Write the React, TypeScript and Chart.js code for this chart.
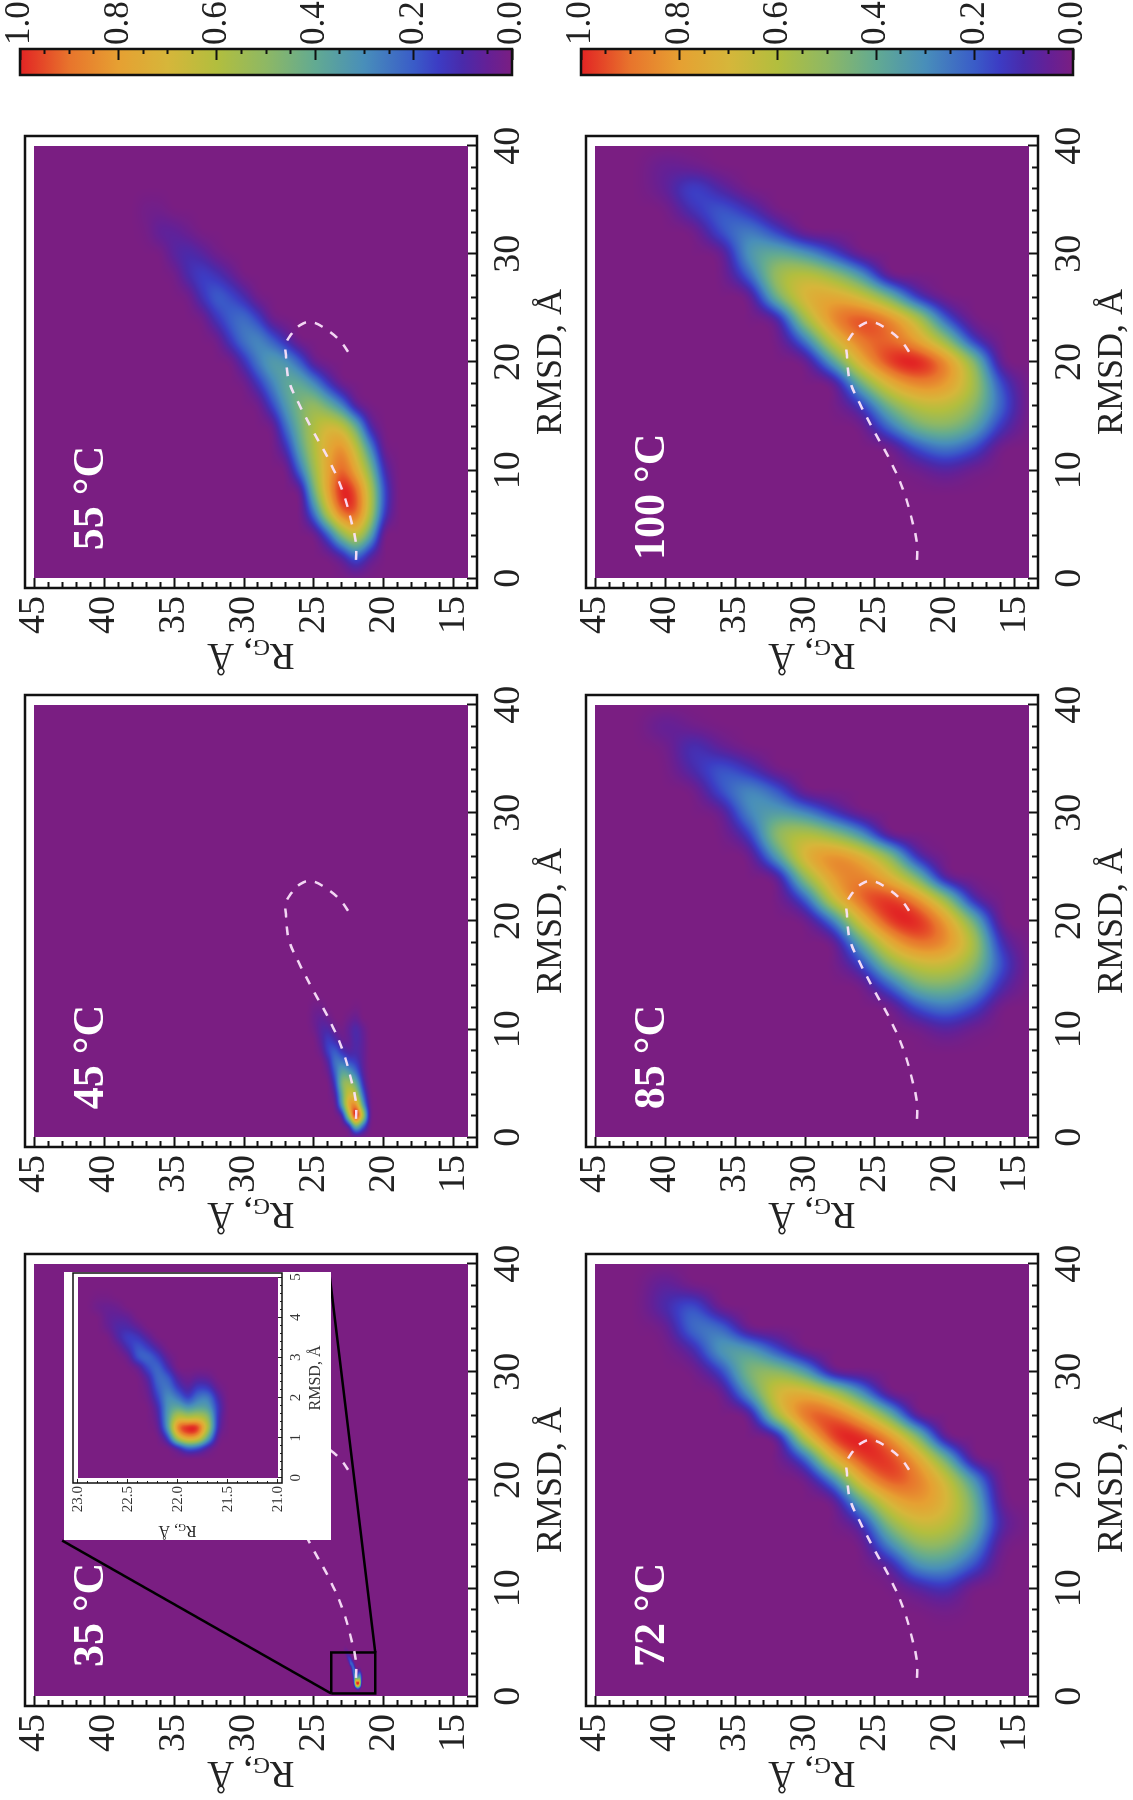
import React, { useEffect, useRef } from "react";
import { Chart, registerables } from "chart.js";
Chart.register(...registerables);

const SERIF = "'Liberation Serif'";

const RMSD_TICKS = [0,2,4,6,8,10,12,14,16,18,20,22,24,26,28,30,32,34,36,38,40];
const RG_TICKS = [14,15,16,17,18,19,20,21,22,23,24,25,26,27,28,29,30,31,32,33,34,35,36,37,38,39,40,41,42,43,44,45];
const BAR_TICKS = [0,0.05,0.1,0.15,0.2,0.25,0.3,0.35,0.4,0.45,0.5,0.55,0.6,0.65,0.7,0.75,0.8,0.85,0.9,0.95,1];
const INSET_RMSD_TICKS = [0,0.2,0.4,0.6,0.8,1,1.2,1.4,1.6,1.8,2,2.2,2.4,2.6,2.8,3,3.2,3.4,3.6,3.8,4,4.2,4.4,4.6,4.8,5];
const INSET_RG_TICKS = [21,21.1,21.2,21.3,21.4,21.5,21.6,21.7,21.8,21.9,22,22.1,22.2,22.3,22.4,22.5,22.6,22.7,22.8,22.9,23];

// folded-state reference path shown dashed in all panels: [RMSD, Rg]
const PATH_RMSD = [1.7,3.2,5.1,7.85,10.6,13.7,16.2,18.3,20.5,21.7,22.6,23.4,23.7,23,21.9,20.4];
const PATH_RG = [22,22,22.3,22.9,23.8,25.1,26.1,26.8,27,27,26.6,26,25.2,24.1,23.1,22.3];

// probability rows: [RMSD, first Rg, values (percent) at successive Rg steps]
const FIELD_35 = [
  [0.75,21.7,6,18,22,8],
  [1,21.6,3,38,74,80,62,14],
  [1.25,21.6,9,58,98,100,88,32,3],
  [1.5,21.6,11,50,60,57,62,34,6],
  [1.75,21.6,13,34,35,30,38,32,9],
  [2,21.6,9,26,24,13,24,30,15,2],
  [2.25,21.6,3,13,14,6,13,25,20,4],
  [2.5,21.7,4,5,2,6,20,23,8],
  [2.75,22.1,10,22,17,4],
  [3,22.1,4,15,22,19,3],
  [3.25,22.2,6,14,19,11,2],
  [3.5,22.3,6,13,15,8],
  [3.75,22.4,5,9,9,4],
  [4,22.5,5,6,5],
  [4.25,22.6,3,4,3],
  [4.5,22.7,1,1],
];
const FIELD_45 = [
  [1,21,1,18,38,5],
  [2,21,3,55,100,50,5],
  [3,21,2,30,75,70,30,2],
  [4,21,1,18,52,60,35,6],
  [5,21.5,10,35,48,42,12],
  [6,21.5,6,20,30,34,18,3],
  [7,21.5,5,12,15,22,22,7],
  [8,21.5,5,8,6,10,18,14,3],
  [9,21.5,5,9,4,3,9,13,6],
  [10,21.5,4,9,5,1,3,8,7,2],
  [11,22,4,2,0,0,3,5,3],
  [12,22,1,0,0,0,0,2,2],
];
const FIELD_55 = [
  [2,21,6,20,6],
  [4,21,37,62,46,17],
  [6,20,14,58,89,87,59,22],
  [8,20,17,59,90,97,75,41,1],
  [10,20,10,46,73,88,74,51,22],
  [12,20,2,29,61,80,72,56,35,10],
  [14,21,8,40,62,66,56,41,22,1],
  [16,22,4,25,40,50,44,32,15,1],
  [18,23,1,12,28,38,37,26,12,1],
  [20,25,3,19,31,34,25,11],
  [22,27,9,20,28,24,13,1],
  [24,28,2,15,23,20,12,1],
  [26,29,1,10,17,20,12,1],
  [28,31,6,12,15,10,1],
  [30,32,2,7,10,7],
  [32,34,3,6,6,1],
  [34,36,2,2],
];
const FIELD_72 = [
  [38,40,7],
  [36,38,20,10],
  [34,36,24,24,2],
  [32,32,16,35,34,8],
  [30,28,1,34,50,47,14],
  [28,26,31,60,74,69,32],
  [26,24,42,73,90,90,57],
  [24,22,48,82,98,96,64,1],
  [22,20,42,77,95,94,70,18],
  [20,18,32,66,86,92,73,25],
  [18,16,2,44,70,80,70,37],
  [16,16,8,43,62,65,48,9],
  [14,16,2,32,48,48,27],
  [12,18,17,31,29,5],
  [10,20,12,6],
  [8,20,2],
];
const FIELD_85 = [
  [38,38,2,6],
  [36,36,5,13,1],
  [34,34,12,20,10],
  [32,32,20,30,18],
  [30,28,12,28,35,29,2],
  [28,26,31,50,60,52,13],
  [26,22,8,50,74,84,73,34],
  [24,20,3,46,73,86,80,50,1],
  [22,18,8,53,84,97,91,65,17],
  [20,18,44,81,99,96,70,23],
  [18,16,10,59,84,89,73,37],
  [16,16,18,50,65,63,47,14],
  [14,16,10,35,45,42,19],
  [12,18,16,25,17],
  [10,18,2,7,1],
];
const FIELD_100 = [
  [38,38,3,5],
  [36,36,8,17,5],
  [34,34,12,20,12],
  [32,32,15,27,18],
  [30,28,16,32,40,33,1],
  [28,26,32,52,62,54,20],
  [26,22,11,44,66,75,71,43],
  [24,20,18,60,84,93,84,54,4],
  [22,18,12,51,77,89,87,65,23],
  [20,16,1,50,85,100,95,73,33],
  [18,16,16,57,80,84,71,40],
  [16,16,21,49,62,60,43,12],
  [14,16,12,37,47,42,22],
  [12,18,17,25,16],
  [10,18,2,7,2],
];

const CMAP: [number, number, number, number][] = [
  [0, 122, 30, 130], [0.05, 100, 32, 150], [0.1, 74, 42, 170], [0.15, 60, 60, 196], [0.2, 58, 92, 200],
  [0.3, 72, 142, 186], [0.4, 98, 170, 146], [0.5, 142, 184, 100], [0.6, 178, 190, 62],
  [0.7, 214, 182, 58], [0.8, 230, 160, 50], [0.9, 232, 116, 44], [1, 226, 36, 36],
];
function colorAt(v: number): [number, number, number] {
  const t = Math.max(0, Math.min(1, v));
  for (let i = 1; i < CMAP.length; i++) {
    if (t <= CMAP[i][0]) {
      const a = CMAP[i - 1], b = CMAP[i], k = (t - a[0]) / (b[0] - a[0]);
      return [a[1] + (b[1] - a[1]) * k, a[2] + (b[2] - a[2]) * k, a[3] + (b[3] - a[3]) * k];
    }
  }
  return [226, 36, 36];
}

function cellsOf(rows: number[][], dy: number) {
  const out: { x: number; y: number; v: number }[] = [];
  for (const r of rows) for (let k = 2; k < r.length; k++) out.push({ x: r[0], y: r[1] + (k - 2) * dy, v: r[k] / 100 });
  return out;
}

// pixel weights: half Catmull-Rom, half cubic B-spline, to render cells as a soft continuous field
const kernel = (t: number) => {
  const t2 = t * t, t3 = t2 * t;
  const c = [(-t3 + 2 * t2 - t) / 2, (3 * t3 - 5 * t2 + 2) / 2, (-3 * t3 + 4 * t2 + t) / 2, (t3 - t2) / 2];
  const b = [(1 - 3 * t + 3 * t2 - t3) / 6, (4 - 6 * t2 + 3 * t3) / 6, (1 + 3 * t + 3 * t2 - 3 * t3) / 6, t3 / 6];
  return [0, 1, 2, 3].map((i) => 0.5 * c[i] + 0.5 * b[i]);
};

// paints the dataset's cells as a continuous colour field, placed with the chart's own scales
function heatPlugin(dx: number, dy: number, xr: number[], yr: number[]) {
  return {
    id: "heat",
    beforeDatasetsDraw(chart: any) {
      const xs = chart.scales.x, ys = chart.scales.y, ctx = chart.ctx;
      const cells = chart.data.datasets[0].data as { x: number; y: number; v: number }[];
      const L = Math.round(xs.getPixelForValue(xr[0])), R = Math.round(xs.getPixelForValue(xr[1]));
      const T = Math.round(ys.getPixelForValue(yr[1])), B = Math.round(ys.getPixelForValue(yr[0]));
      const w = R - L, h = B - T;
      const iMin = Math.min(...cells.map((c) => Math.round(c.x / dx))) - 3;
      const iMax = Math.max(...cells.map((c) => Math.round(c.x / dx))) + 3;
      const jMin = Math.min(...cells.map((c) => Math.round(c.y / dy))) - 3;
      const jMax = Math.max(...cells.map((c) => Math.round(c.y / dy))) + 3;
      const nI = iMax - iMin + 1, nJ = jMax - jMin + 1;
      const g = new Float32Array(nI * nJ);
      for (const c of cells) g[(Math.round(c.x / dx) - iMin) * nJ + Math.round(c.y / dy) - jMin] = c.v;
      const field = new Float32Array(w * h);
      let top = 0;
      for (let py = 0; py < h; py++) {
        const fj = ys.getValueForPixel(T + py + 0.5) / dy - jMin;
        const j0 = Math.floor(fj), wy = kernel(fj - j0);
        for (let px = 0; px < w; px++) {
          const fi = xs.getValueForPixel(L + px + 0.5) / dx - iMin;
          const i0 = Math.floor(fi), wx = kernel(fi - i0);
          let val = 0;
          if (i0 >= 1 && i0 + 2 < nI && j0 >= 1 && j0 + 2 < nJ) {
            for (let a = 0; a < 4; a++) for (let b = 0; b < 4; b++) val += wx[a] * wy[b] * g[(i0 - 1 + a) * nJ + j0 - 1 + b];
          }
          field[py * w + px] = val;
          if (val > top) top = val;
        }
      }
      const off = document.createElement("canvas");
      off.width = w; off.height = h;
      const octx = off.getContext("2d")!;
      const img = octx.createImageData(w, h);
      const lut: number[][] = [];
      for (let i = 0; i <= 1000; i++) lut.push(colorAt(i / 1000));
      for (let k = 0; k < w * h; k++) {
        const c = lut[Math.round(Math.max(0, Math.min(1, field[k] / top)) * 1000)];
        img.data[k * 4] = c[0]; img.data[k * 4 + 1] = c[1]; img.data[k * 4 + 2] = c[2]; img.data[k * 4 + 3] = 255;
      }
      octx.putImageData(img, 0, 0);
      ctx.drawImage(off, L, T);
    },
  };
}

const framePlugin = (lw: number) => ({
  id: "frame",
  afterDraw(chart: any) {
    const { ctx, chartArea: a } = chart;
    ctx.save();
    ctx.strokeStyle = "#111";
    ctx.lineWidth = lw;
    ctx.strokeRect(a.left, a.top, a.right - a.left, a.bottom - a.top);
    ctx.restore();
  },
});

const rgTitlePlugin = (x: number, size: number) => ({
  id: "rgTitle",
  afterDraw(chart: any) {
    const { ctx, chartArea: a } = chart;
    ctx.save();
    ctx.translate(x, (a.top + a.bottom) / 2);
    ctx.rotate(-Math.PI / 2);
    ctx.fillStyle = "#222";
    ctx.textBaseline = "middle";
    ctx.textAlign = "left";
    const big = `${size}px ${SERIF}`, small = `${Math.round(size * 0.66)}px ${SERIF}`;
    ctx.font = big;
    const w1 = ctx.measureText("R").width, w3 = ctx.measureText(", Å").width;
    ctx.font = small;
    const w2 = ctx.measureText("G").width;
    let p = -(w1 + w2 + w3) / 2;
    ctx.font = big;
    ctx.fillText("R", p, 0);
    p += w1;
    ctx.font = small;
    ctx.fillText("G", p, size * 0.2);
    p += w2;
    ctx.font = big;
    ctx.fillText(", Å", p, 0);
    ctx.restore();
  },
});

const tempPlugin = (label: string, rmsd: number, rg: number) => ({
  id: "temp",
  afterDatasetsDraw(chart: any) {
    const { ctx, scales } = chart;
    ctx.save();
    ctx.fillStyle = "#fff";
    ctx.font = `bold 44px ${SERIF}`;
    ctx.textAlign = "left";
    ctx.textBaseline = "alphabetic";
    ctx.fillText(label, scales.x.getPixelForValue(rmsd), scales.y.getPixelForValue(rg));
    ctx.restore();
  },
});

function useChart(make: (c: HTMLCanvasElement) => Chart) {
  const ref = useRef<HTMLCanvasElement>(null);
  useEffect(() => {
    const ch = make(ref.current!);
    return () => ch.destroy();
  }, []);
  return ref;
}

const FW = 452;
const PATH = PATH_RMSD.map((x, i) => ({ x, y: PATH_RG[i] }));
const BOX_RMSD = [0.26, 0.26, 4.05, 4.05, 0.26];
const BOX_RG = [23.77, 20.62, 20.62, 23.77, 23.77];
const ZOOM_A_RMSD = [0.26, 14.4];
const ZOOM_A_RG = [23.77, 43];
const ZOOM_B_RMSD = [4.05, 39.2];
const ZOOM_B_RG = [20.62, 23.9];

function Panel(p: { u: number; v: number; rows: number[][]; dx: number; dy: number; label: string; at: number; zoom?: boolean }) {
  const M = 46, AX = 94, AY = 96;
  const ref = useChart((c) => {
    const black = { showLine: true, pointRadius: 0, borderColor: "#000", borderWidth: 2.5, tension: 0, fill: false };
    const sets: any[] = [
      { label: "P", data: cellsOf(p.rows, p.dy), pointRadius: 0 },
      { label: "path", data: PATH, showLine: true, pointRadius: 0, borderColor: "rgba(250,225,250,0.95)", borderWidth: 2.5, borderDash: [9, 9], tension: 0.4, fill: false },
    ];
    if (p.zoom) {
      sets.push({ ...black, label: "box", data: BOX_RMSD.map((x, i) => ({ x, y: BOX_RG[i] })) });
      sets.push({ ...black, label: "a", data: ZOOM_A_RMSD.map((x, i) => ({ x, y: ZOOM_A_RG[i] })) });
      sets.push({ ...black, label: "b", data: ZOOM_B_RMSD.map((x, i) => ({ x, y: ZOOM_B_RG[i] })) });
    }
    return new Chart(c, {
      type: "scatter",
      data: { datasets: sets },
      plugins: [heatPlugin(p.dx, p.dy, [0, 40], [14, 45]), framePlugin(2.5), rgTitlePlugin(28, 37), tempPlugin(p.label, p.at, 40.05)],
      options: {
        animation: false, responsive: false, devicePixelRatio: 1,
        layout: { padding: { top: M, right: M, left: 0, bottom: 0 } },
        plugins: { legend: { display: false }, tooltip: { enabled: false } },
        scales: {
          x: {
            type: "linear", min: -0.9, max: 40.9,
            afterBuildTicks: (s: any) => { s.ticks = RMSD_TICKS.map((value) => ({ value })); },
            afterFit: (s: any) => { s.height = AY; },
            grid: { drawOnChartArea: false, tickLength: -10, tickColor: "#111", tickWidth: 2, tickBorderDash: (t: any) => (t.tick.value % 10 === 0 ? [] : [6, 100]) },
            border: { display: false },
            ticks: { autoSkip: false, maxRotation: 0, padding: 19, color: "#222", font: { family: SERIF, size: 38 }, callback: (v: any) => (v % 10 === 0 ? String(v) : "") },
            title: { display: true, text: "RMSD, Å", color: "#222", font: { family: SERIF, size: 36 }, padding: 0 },
          },
          y: {
            type: "linear", min: 13.35, max: 45.65,
            afterBuildTicks: (s: any) => { s.ticks = RG_TICKS.map((value) => ({ value })); },
            afterFit: (s: any) => { s.width = AX; },
            grid: { drawOnChartArea: false, tickLength: -10, tickColor: "#111", tickWidth: 2, tickBorderDash: (t: any) => (t.tick.value % 5 === 0 ? [] : [0, 4, 6, 100]) },
            border: { display: false },
            ticks: { autoSkip: false, padding: 18, color: "#222", font: { family: SERIF, size: 38 }, callback: (v: any) => (v % 5 === 0 ? String(v) : "") },
          },
        },
      } as any,
    });
  });
  return <canvas ref={ref} width={AX + FW + M} height={M + FW + AY} style={{ position: "absolute", left: p.u - AX, top: p.v - M }} />;
}

function Inset(p: { u: number; v: number }) {
  const ref = useChart((c) =>
    new Chart(c, {
      type: "scatter",
      data: { datasets: [{ label: "P", data: cellsOf(FIELD_35, 0.1), pointRadius: 0 }] as any },
      plugins: [heatPlugin(0.25, 0.1, [0, 5], [21, 23]), framePlugin(1.5), rgTitlePlugin(10, 16)],
      options: {
        animation: false, responsive: false, devicePixelRatio: 1,
        layout: { padding: { top: 20, right: 20, left: 0, bottom: 0 } },
        plugins: { legend: { display: false }, tooltip: { enabled: false } },
        scales: {
          x: {
            type: "linear", min: -0.13, max: 5.1,
            afterBuildTicks: (s: any) => { s.ticks = INSET_RMSD_TICKS.map((value) => ({ value })); },
            afterFit: (s: any) => { s.height = 43; },
            grid: { drawOnChartArea: false, tickLength: -4, tickColor: "#222", tickWidth: 1, tickBorderDash: (t: any) => (Math.abs(t.tick.value - Math.round(t.tick.value)) < 0.01 ? [] : [2, 100]) },
            border: { display: false },
            ticks: { autoSkip: false, maxRotation: 0, padding: 9, color: "#333", font: { family: SERIF, size: 15 }, callback: (v: any) => (Math.abs(v - Math.round(v)) < 0.01 ? String(Math.round(v)) : "") },
            title: { display: true, text: "RMSD, Å", color: "#333", font: { family: SERIF, size: 16 }, padding: 0 },
          },
          y: {
            type: "linear", min: 20.96, max: 23.046,
            afterBuildTicks: (s: any) => { s.ticks = INSET_RG_TICKS.map((value) => ({ value })); },
            afterFit: (s: any) => { s.width = 57; },
            grid: { drawOnChartArea: false, tickLength: -4, tickColor: "#222", tickWidth: 1, tickBorderDash: (t: any) => (Math.abs(t.tick.value * 2 - Math.round(t.tick.value * 2)) < 0.01 ? [] : [0, 2, 2, 100]) },
            border: { display: false },
            ticks: { autoSkip: false, padding: 7, color: "#333", font: { family: SERIF, size: 15 }, callback: (v: any) => (Math.abs(v * 2 - Math.round(v * 2)) < 0.01 ? Number(v).toFixed(1) : "") },
          },
        },
      } as any,
    }),
  );
  return <canvas ref={ref} width={57 + 210 + 20} height={20 + 209 + 43} style={{ position: "absolute", left: p.u - 57, top: p.v - 20 }} />;
}

function ColorBar(p: { u: number; v: number; len: number }) {
  const ref = useChart((c) =>
    new Chart(c, {
      type: "bar",
      data: {
        labels: [""],
        datasets: [{
          label: "scale",
          data: [[0, 1]],
          barPercentage: 1,
          categoryPercentage: 1,
          backgroundColor: (ctx: any) => {
            const a = ctx.chart.chartArea;
            if (!a) return "#000";
            const gr = ctx.chart.ctx.createLinearGradient(0, a.bottom, 0, a.top);
            for (const s of CMAP) gr.addColorStop(s[0], `rgb(${s[1]},${s[2]},${s[3]})`);
            return gr;
          },
        }] as any,
      },
      plugins: [framePlugin(2.5)],
      options: {
        animation: false, responsive: false, devicePixelRatio: 1,
        layout: { padding: { top: 46, bottom: 46, left: 5, right: 0 } },
        plugins: { legend: { display: false }, tooltip: { enabled: false } },
        scales: {
          x: { display: false },
          y: {
            position: "right", min: 0, max: 1,
            afterBuildTicks: (s: any) => { s.ticks = BAR_TICKS.map((value) => ({ value })); },
            afterFit: (s: any) => { s.width = 49; },
            grid: { z: 1, drawOnChartArea: false, tickLength: -11, tickColor: "#111", tickWidth: 2, tickBorderDash: (t: any) => (Math.abs(t.tick.value * 5 - Math.round(t.tick.value * 5)) < 0.01 ? [] : [5, 100]) },
            border: { display: false },
            ticks: { autoSkip: false, padding: 15, color: "#222", font: { family: SERIF, size: 35 }, callback: (v: any) => (Math.abs(v * 5 - Math.round(v * 5)) < 0.01 ? Number(v).toFixed(1) : "") },
          },
        },
      } as any,
    }),
  );
  return <canvas ref={ref} width={5 + 26 + 49} height={46 + p.len + 46} style={{ position: "absolute", left: p.u - 5, top: p.v - 46 }} />;
}

export default function App() {
  const rowU = [94, 653, 1212];
  const colV = [25, 586];
  return (
    <div style={{ position: "fixed", left: 0, top: 0, width: 1800, height: 1133, overflow: "hidden", background: "#fff", transformOrigin: "0 0", transform: "translateY(1800px) rotate(-90deg)" }}>
      <Panel u={rowU[0]} v={colV[0]} rows={FIELD_35} dx={0.25} dy={0.1} label="35 °C" at={2.7} zoom />
      <Panel u={rowU[1]} v={colV[0]} rows={FIELD_45} dx={1} dy={0.5} label="45 °C" at={2.6} />
      <Panel u={rowU[2]} v={colV[0]} rows={FIELD_55} dx={2} dy={1} label="55 °C" at={2.6} />
      <Panel u={rowU[0]} v={colV[1]} rows={FIELD_72} dx={2} dy={2} label="72 °C" at={2.7} />
      <Panel u={rowU[1]} v={colV[1]} rows={FIELD_85} dx={2} dy={2} label="85 °C" at={2.6} />
      <Panel u={rowU[2]} v={colV[1]} rows={FIELD_100} dx={2} dy={2} label="100 °C" at={1.7} />
      <div style={{ position: "absolute", left: 260, top: 64, width: 268, height: 267, background: "#fff" }} />
      <Inset u={317} v={73} />
      <ColorBar u={1725} v={20} len={492} />
      <ColorBar u={1725} v={581} len={492} />
    </div>
  );
}
